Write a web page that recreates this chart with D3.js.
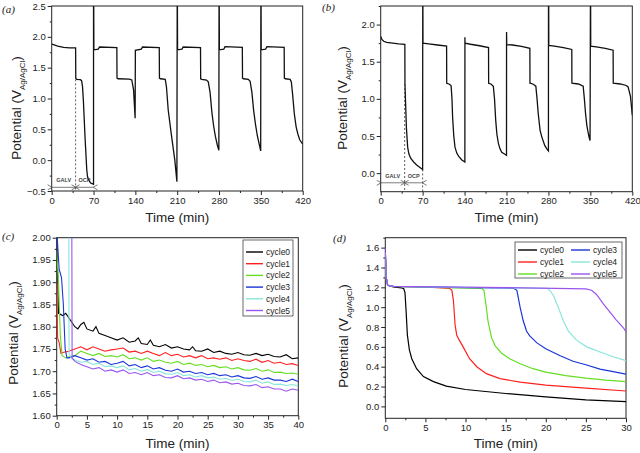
<!DOCTYPE html>
<html>
<head>
<meta charset="utf-8">
<script src="https://cdn.jsdelivr.net/npm/d3@7"></script>
<style>
  body { margin: 0; background: #fff; }
  svg, svg text { font-family: "Liberation Sans", Arial, sans-serif; }
  .tick text { font-size: 9.5px; fill: #222; font-family: "Liberation Sans", Arial, sans-serif; }
  .tick line { stroke: #222; }
  .axis-title { font-size: 13.5px; fill: #222; }
  svg text.panel-label { font-family: "Liberation Serif", "Times New Roman", serif; font-style: italic; font-size: 11px; fill: #222; }
</style>
</head>
<body>
<svg id="chart" width="640" height="453"></svg>
<script>
// ---- data ----
const cycleNames = ["cycle0", "cycle1", "cycle2", "cycle3", "cycle4", "cycle5"];
const cycleColors = ["#000000", "#ff2020", "#66dd22", "#1a35d8", "#88e6d8", "#9955ee"];

const ticksAB = [0, 70, 140, 210, 280, 350, 420];
const ticksAY = [-0.5, 0.0, 0.5, 1.0, 1.5, 2.0, 2.5];
const ticksBY = [0.0, 0.5, 1.0, 1.5, 2.0];
const ticksCX = [0, 5, 10, 15, 20, 25, 30, 35, 40];
const ticksCY = [1.60, 1.65, 1.70, 1.75, 1.80, 1.85, 1.90, 1.95, 2.00];
const ticksDX = [0, 5, 10, 15, 20, 25, 30];
const ticksDY = [0.0, 0.2, 0.4, 0.6, 0.8, 1.0, 1.2, 1.4, 1.6];

// (a) [time min, potential V]
const potA = [
  [0,1.88],[3,1.875],[10,1.85],[20,1.83],[30,1.822],[40,1.82],
  [40.3,1.33],[42,1.31],[48,1.305],[50,1.29],[51.5,1.2],[53,0.97],[56,0.33],[58.7,-0.16],[60,-0.27],[62,-0.32],[65,-0.37],[70,-0.39],
  [70,2.6],[70.3,2.6],[70.6,1.79],[78,1.80],[80,1.835],[109,1.825],
  [109.3,1.33],[111,1.32],[130,1.315],[134,1.30],[137,1.14],[139.6,0.68],
  [140,1.78],[150,1.80],[152,1.835],[180,1.825],
  [180.3,1.33],[182,1.32],[190,1.31],[192,1.19],[195,0.81],[200,0.43],[206,0.0],[209.5,-0.35],
  [210,2.6],[210.3,2.6],[210.6,1.79],[218,1.80],[220,1.835],[249,1.825],
  [249.3,1.32],[251,1.31],[259,1.30],[262,1.27],[265,1.1],[268,0.78],[271,0.55],[274,0.38],[277,0.25],[279.7,0.16],
  [280,2.6],[280.3,2.6],[280.6,1.79],[288,1.80],[290,1.84],[319,1.83],
  [319.3,1.33],[321,1.32],[329,1.31],[332,1.28],[335,1.1],[338,0.8],[341,0.58],[344,0.40],[347,0.27],[349.7,0.15],
  [350,2.6],[350.3,2.6],[350.6,1.79],[358,1.80],[360,1.84],[389,1.83],
  [389.3,1.33],[391,1.32],[399,1.31],[401,1.27],[403,1.08],[406,0.75],[409,0.54],[412,0.42],[415,0.33],[420,0.26]
];

// (b)
const potB = [
  [0,1.84],[1,1.82],[2,1.80],[5,1.775],[10,1.76],[20,1.75],[30,1.74],[40.3,1.735],
  [40.5,1.20],[41.5,0.95],[43,0.6],[45,0.35],[47,0.26],[50,0.2],[55,0.15],[60,0.11],[65,0.08],[70,0.05],
  [70.2,2.4],[70.4,2.4],[70.6,1.75],[80,1.74],[95,1.725],[110,1.71],
  [110.2,1.21],[114,1.20],[117.5,1.18],[119,1.0],[120,0.76],[122,0.5],[124,0.35],[127,0.27],[130,0.23],[135,0.18],[140.5,0.15],
  [140.6,1.83],[140.8,1.75],[150,1.735],[165,1.715],[180,1.69],
  [180.2,1.21],[184,1.20],[188,1.17],[190,1.0],[192,0.71],[194,0.52],[196.5,0.40],[199,0.33],[202,0.28],[206,0.26],[210,0.24],
  [210.1,1.90],[210.4,1.73],[220,1.725],[235,1.705],[249,1.68],
  [249.2,1.21],[254,1.20],[259,1.17],[261,1.0],[263,0.8],[266,0.58],[269,0.485],[274,0.37],[277,0.33],[280,0.30],
  [280.1,2.4],[280.4,2.4],[280.6,1.72],[290,1.71],[305,1.69],[319,1.665],
  [319.2,1.21],[330,1.20],[338,1.17],[340,1.0],[342,0.80],[344,0.65],[345.6,0.575],[348,0.48],[349.5,0.44],
  [350.1,2.4],[350.4,2.4],[350.6,1.71],[360,1.70],[375,1.68],[388,1.655],
  [388.2,1.21],[400,1.20],[410,1.18],[413,1.16],[417,1.03],[420,0.78]
];

// (c) galvanostatic part of each cycle
const galvC0 = [[0,2.02],[0.3,1.83],[1,1.825],[1.5,1.83],[2,1.82],[2.5,1.81],[3,1.80],[3.5,1.795],[4,1.805],[4.5,1.81],[5,1.795],[6,1.79],[6.5,1.80],[7,1.785],[8,1.78],[9,1.775],[10,1.77],[11,1.775],[12,1.765],[13,1.768],[13.5,1.775],[14,1.762],[15,1.76],[15.5,1.77],[16,1.758],[17,1.755],[18,1.76],[19,1.752],[20,1.755],[21,1.75],[22,1.748],[22.5,1.755],[23,1.746],[24,1.745],[25,1.75],[26,1.742],[27,1.745],[28,1.74],[29,1.738],[30,1.742],[31,1.737],[32,1.736],[33,1.74],[34,1.735],[35,1.738],[36,1.733],[37,1.732],[38,1.737],[39,1.728],[40,1.73]];
const galvC1 = [[0,1.90],[0.15,1.775],[0.4,1.765],[0.7,1.74],[1,1.742],[2,1.745],[3,1.75],[4,1.755],[5,1.748],[6,1.755],[7,1.75],[8,1.745],[9,1.748],[10,1.75],[11,1.752],[12,1.743],[13,1.745],[14,1.74],[15,1.745],[16,1.74],[17,1.735],[18,1.742],[19,1.735],[20,1.738],[21,1.732],[22,1.735],[23,1.73],[24,1.735],[25,1.728],[26,1.73],[27,1.727],[28,1.73],[29,1.724],[30,1.728],[31,1.724],[32,1.722],[33,1.727],[34,1.72],[35,1.724],[36,1.718],[37,1.72],[38,1.715],[39,1.717],[40,1.713]];
const galvC2 = [[0,1.97],[0.3,1.90],[0.6,1.78],[0.9,1.735],[1.5,1.73],[2,1.732],[3,1.735],[4,1.745],[5,1.74],[6,1.735],[7,1.74],[8,1.733],[9,1.735],[10,1.732],[11,1.737],[12,1.728],[13,1.73],[14,1.725],[15,1.73],[16,1.722],[17,1.725],[18,1.72],[19,1.718],[20,1.722],[21,1.715],[22,1.718],[23,1.713],[24,1.715],[25,1.71],[26,1.713],[27,1.708],[28,1.71],[29,1.705],[30,1.708],[31,1.703],[32,1.702],[33,1.706],[34,1.7],[35,1.703],[36,1.697],[37,1.698],[38,1.695],[39,1.696],[40,1.693]];
const galvC3 = [[0,2.02],[0.4,1.93],[0.8,1.91],[1.1,1.85],[1.4,1.75],[1.7,1.73],[2,1.73],[3,1.735],[4,1.73],[5,1.725],[6,1.728],[7,1.72],[8,1.722],[9,1.715],[10,1.718],[11,1.722],[12,1.712],[13,1.715],[14,1.708],[15,1.712],[16,1.705],[17,1.708],[18,1.702],[19,1.7],[20,1.705],[21,1.698],[22,1.7],[23,1.695],[24,1.697],[25,1.692],[26,1.695],[27,1.69],[28,1.692],[29,1.687],[30,1.69],[31,1.685],[32,1.684],[33,1.688],[34,1.682],[35,1.685],[36,1.68],[37,1.68],[38,1.677],[39,1.682],[40,1.677]];
const galvC4 = [[2.0,2.05],[2.05,1.74],[2.5,1.728],[3,1.725],[4,1.72],[5,1.722],[6,1.715],[7,1.718],[8,1.71],[9,1.712],[10,1.708],[11,1.712],[12,1.703],[13,1.706],[14,1.7],[15,1.704],[16,1.697],[17,1.7],[18,1.694],[19,1.693],[20,1.697],[21,1.69],[22,1.692],[23,1.687],[24,1.69],[25,1.685],[26,1.687],[27,1.682],[28,1.684],[29,1.679],[30,1.682],[31,1.677],[32,1.676],[33,1.68],[34,1.673],[35,1.676],[36,1.67],[37,1.671],[38,1.668],[39,1.67],[40,1.667]];
const galvC5 = [[2.5,2.05],[2.55,1.73],[3,1.722],[4,1.715],[5,1.71],[6,1.705],[7,1.708],[8,1.7],[9,1.703],[10,1.698],[11,1.703],[12,1.695],[13,1.697],[14,1.692],[15,1.697],[16,1.69],[17,1.692],[18,1.686],[19,1.685],[20,1.69],[21,1.683],[22,1.685],[23,1.68],[24,1.682],[25,1.677],[26,1.68],[27,1.674],[28,1.676],[29,1.671],[30,1.673],[31,1.668],[32,1.667],[33,1.67],[34,1.663],[35,1.665],[36,1.66],[37,1.66],[38,1.655],[39,1.66],[40,1.657]];

// (d) discharge part of each cycle
const disD0 = [[0,1.58],[0.1,1.30],[0.3,1.22],[1,1.205],[2,1.195],[2.3,1.185],[2.45,1.15],[2.6,0.95],[2.75,0.72],[3,0.57],[3.3,0.48],[3.9,0.38],[4.75,0.30],[6,0.25],[7.6,0.205],[10,0.17],[15,0.13],[20,0.095],[25,0.065],[30,0.048]];
const disD1 = [[0,1.55],[0.1,1.30],[0.3,1.22],[1,1.21],[5,1.205],[8,1.19],[8.3,1.17],[8.5,1.06],[8.7,0.82],[8.9,0.72],[9.2,0.67],[9.7,0.60],[10.5,0.48],[11.4,0.40],[12.6,0.33],[14.3,0.28],[16.8,0.245],[20,0.215],[25,0.185],[30,0.155]];
const disD2 = [[0,1.55],[0.1,1.30],[0.3,1.22],[1,1.21],[6,1.2],[12,1.19],[12.3,1.17],[12.6,0.99],[12.8,0.86],[13.25,0.69],[13.7,0.61],[14.5,0.535],[15.5,0.48],[16.8,0.43],[18.4,0.38],[20,0.345],[22.5,0.31],[25,0.285],[27.5,0.265],[30,0.25]];
const disD3 = [[0,1.55],[0.1,1.30],[0.3,1.22],[1,1.21],[8,1.2],[16,1.19],[16.4,1.17],[16.8,1.0],[17.2,0.86],[17.6,0.76],[18,0.71],[18.9,0.64],[20,0.58],[21.8,0.51],[23.4,0.455],[25,0.42],[26.75,0.375],[28.4,0.35],[30,0.325]];
const disD4 = [[0,1.55],[0.1,1.30],[0.3,1.22],[1,1.21],[10,1.2],[20.2,1.19],[20.6,1.16],[21,1.11],[21.6,0.99],[22.2,0.86],[22.8,0.76],[23.8,0.67],[25.1,0.60],[26.7,0.55],[28.4,0.50],[30,0.46]];
const disD5 = [[0,1.6],[0.1,1.30],[0.3,1.22],[1,1.21],[12,1.2],[25,1.185],[25.7,1.17],[26.3,1.13],[27.2,1.03],[28,0.95],[28.8,0.87],[29.7,0.79],[30,0.75]];

const galvC = [galvC0, galvC1, galvC2, galvC3, galvC4, galvC5];
const disD = [disD0, disD1, disD2, disD3, disD4, disD5];

// ---- drawing ----
const svg = d3.select("#chart");
const defs = svg.append("defs");

defs.append("marker")
  .attr("id", "chev")
  .attr("viewBox", "0 0 6 6")
  .attr("refX", 0.5).attr("refY", 3)
  .attr("markerWidth", 6).attr("markerHeight", 6)
  .attr("markerUnits", "userSpaceOnUse")
  .attr("orient", "auto-start-reverse")
  .append("path")
  .attr("d", "M5,0.5 L0.5,3 L5,5.5")
  .attr("fill", "none")
  .attr("stroke", "#444")
  .attr("stroke-width", 0.7);

function between(a, b, step) {
  return d3.range(a, b + step / 2, step);
}

function makePanel(o) {
  const x = d3.scaleLinear().domain(o.xd).range([o.l, o.r]);
  const y = d3.scaleLinear().domain(o.yd).range([o.b, o.t]);
  const g = svg.append("g");

  defs.append("clipPath").attr("id", "clip-" + o.name)
    .append("rect")
    .attr("x", o.l).attr("y", o.t)
    .attr("width", o.r - o.l).attr("height", o.b - o.t);

  // minor ticks first, then majors
  g.append("g").attr("transform", `translate(0,${o.b})`)
    .call(d3.axisBottom(x).tickValues(o.xMinor).tickSize(2).tickFormat(""));
  g.append("g").attr("transform", `translate(0,${o.b})`)
    .call(d3.axisBottom(x).tickValues(o.xTicks).tickSize(4).tickPadding(2).tickFormat(o.xf));
  g.append("g").attr("transform", `translate(${o.l},0)`)
    .call(d3.axisLeft(y).tickValues(o.yMinor).tickSize(2).tickFormat(""));
  g.append("g").attr("transform", `translate(${o.l},0)`)
    .call(d3.axisLeft(y).tickValues(o.yTicks).tickSize(4).tickPadding(2).tickFormat(o.yf));
  g.selectAll(".domain").remove();

  g.append("rect")
    .attr("x", o.l).attr("y", o.t)
    .attr("width", o.r - o.l).attr("height", o.b - o.t)
    .attr("fill", "none").attr("stroke", "#222").attr("stroke-width", 1);

  // axis titles
  g.append("text").attr("class", "axis-title")
    .attr("x", (o.l + o.r) / 2).attr("y", o.xTitleY)
    .attr("text-anchor", "middle")
    .text("Time (min)");

  const yt = g.append("text").attr("class", "axis-title")
    .attr("transform", "rotate(-90)")
    .attr("x", -o.yTitleCY).attr("y", o.yTitleX)
    .attr("text-anchor", "middle");
  yt.append("tspan").text("Potential (V");
  yt.append("tspan").attr("dy", 3.5).style("font-size", "8px").text("Ag/AgCl");
  yt.append("tspan").attr("dy", -3.5).text(")");

  svg.append("text").attr("class", "panel-label")
    .attr("x", o.labX).attr("y", o.labY).text(o.label);

  const plot = g.append("g").attr("clip-path", `url(#clip-${o.name})`);
  const line = d3.line().x(d => x(d[0])).y(d => y(d[1]));
  return { x, y, g, plot, line };
}

const fmt1 = d3.format(".1f");
const fmt2 = d3.format(".2f");
const fmt0 = d3.format("d");

// (a)
const pa = makePanel({
  name: "a", label: "(a)", labX: 2, labY: 13,
  l: 51.7, r: 302.7, t: 6, b: 191,
  xd: [0, 420], yd: [-0.5, 2.5],
  xTicks: ticksAB, xMinor: between(35, 385, 70), xf: fmt0,
  yTicks: ticksAY, yMinor: between(-0.25, 2.25, 0.5), yf: fmt1,
  xTitleY: 222, yTitleX: 21, yTitleCY: 108
});
pa.plot.append("path").datum(potA)
  .attr("d", pa.line).attr("fill", "none")
  .attr("stroke", "#111").attr("stroke-width", 1.3);

// (b)
const pb = makePanel({
  name: "b", label: "(b)", labX: 322, labY: 11,
  l: 380.7, r: 632.3, t: 6, b: 191.7,
  xd: [0, 420], yd: [-0.25, 2.25],
  xTicks: ticksAB, xMinor: between(35, 385, 70), xf: fmt0,
  yTicks: ticksBY, yMinor: between(0.25, 2.25, 0.5), yf: fmt1,
  xTitleY: 222, yTitleX: 347, yTitleCY: 98
});
pb.plot.append("path").datum(potB)
  .attr("d", pb.line).attr("fill", "none")
  .attr("stroke", "#111").attr("stroke-width", 1.3);

// GALV / OCP markers on (a) and (b)
function phaseMarks(p, arrowV, textV, dashes) {
  dashes.forEach(dd => {
    p.plot.append("line")
      .attr("x1", p.x(dd[0])).attr("x2", p.x(dd[0]))
      .attr("y1", p.y(dd[1])).attr("y2", p.y.range()[0])
      .attr("stroke", "#333").attr("stroke-width", 0.8)
      .attr("stroke-dasharray", "2,2");
  });
  [[0, 40, "GALV"], [40, 70, "OCP"]].forEach(s => {
    p.g.append("line")
      .attr("x1", p.x(s[0]) + 0.5).attr("x2", p.x(s[1]) - 0.5)
      .attr("y1", p.y(arrowV)).attr("y2", p.y(arrowV))
      .attr("stroke", "#444").attr("stroke-width", 0.7)
      .attr("marker-start", "url(#chev)").attr("marker-end", "url(#chev)");
    p.g.append("text")
      .attr("x", p.x((s[0] + s[1]) / 2)).attr("y", p.y(textV))
      .attr("text-anchor", "middle")
      .style("font-size", "5.5px").style("font-weight", "bold").attr("fill", "#444")
      .text(s[2]);
  });
}
phaseMarks(pa, -0.44, -0.36, [[40, 1.31]]);
phaseMarks(pb, -0.13, -0.06, [[40, 1.2], [70, 0.05]]);

// (c)
const pc = makePanel({
  name: "c", label: "(c)", labX: 2, labY: 240,
  l: 56.7, r: 298.3, t: 237.7, b: 415.7,
  xd: [0, 40], yd: [1.6, 2.0],
  xTicks: ticksCX, xMinor: between(2.5, 37.5, 5), xf: fmt0,
  yTicks: ticksCY, yMinor: between(1.625, 1.975, 0.05), yf: fmt2,
  xTitleY: 448, yTitleX: 18, yTitleCY: 333
});
galvC.forEach((s, i) => {
  pc.plot.append("path").datum(s)
    .attr("d", pc.line).attr("fill", "none")
    .attr("stroke", cycleColors[i]).attr("stroke-width", 1.1);
});

const legC = svg.append("g");
legC.append("rect").attr("x", 243).attr("y", 240).attr("width", 50).attr("height", 76)
  .attr("fill", "#fff").attr("stroke", "#444").attr("stroke-width", 0.8);
cycleNames.forEach((n, i) => {
  const yy = 252 + i * 11.7;
  legC.append("line").attr("x1", 246).attr("x2", 263).attr("y1", yy).attr("y2", yy)
    .attr("stroke", cycleColors[i]).attr("stroke-width", 1.4);
  legC.append("text").attr("x", 266).attr("y", yy + 3).style("font-size", "8.5px")
    .attr("fill", "#222").text(n);
});

// (d)
const pd = makePanel({
  name: "d", label: "(d)", labX: 333, labY: 242,
  l: 385.3, r: 626, t: 237.7, b: 418.3,
  xd: [0, 30], yd: [-0.12, 1.7],
  xTicks: ticksDX, xMinor: between(2.5, 27.5, 5), xf: fmt0,
  yTicks: ticksDY, yMinor: between(0.1, 1.7, 0.2), yf: fmt1,
  xTitleY: 448, yTitleX: 348, yTitleCY: 336
});
disD.forEach((s, i) => {
  pd.plot.append("path").datum(s)
    .attr("d", pd.line).attr("fill", "none")
    .attr("stroke", cycleColors[i]).attr("stroke-width", 1.2);
});

const legD = svg.append("g");
legD.append("rect").attr("x", 515).attr("y", 242).attr("width", 107).attr("height", 36)
  .attr("fill", "#fff").attr("stroke", "#444").attr("stroke-width", 0.8);
cycleNames.forEach((n, i) => {
  const col = Math.floor(i / 3), row = i % 3;
  const x0 = 518 + col * 53, yy = 250 + row * 12;
  legD.append("line").attr("x1", x0).attr("x2", x0 + 19).attr("y1", yy).attr("y2", yy)
    .attr("stroke", cycleColors[i]).attr("stroke-width", 1.4);
  legD.append("text").attr("x", x0 + 22).attr("y", yy + 3).style("font-size", "8.5px")
    .attr("fill", "#222").text(n);
});
</script>
</body>
</html>
